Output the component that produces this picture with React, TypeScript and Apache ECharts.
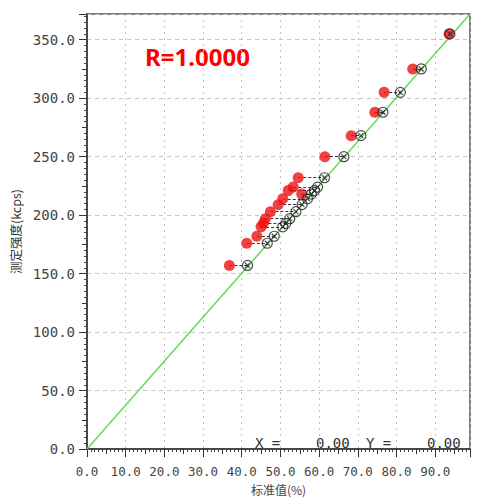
import React, { useEffect, useRef } from "react";
import * as echarts from "echarts";

// measured intensity (kcps) for each sample
const yMeasured = [355, 325, 305, 288, 268, 250, 232, 224, 221, 218, 214, 209, 203, 197, 193, 190, 182, 176, 157];
// red points (measured position)
const redX = [93.6, 84.2, 76.8, 74.4, 68.3, 61.5, 54.6, 53.3, 52.0, 55.5, 50.6, 49.4, 47.4, 46.1, 45.6, 45.0, 43.9, 41.3, 36.8];
// open circles (standard value, on calibration line)
const stdX = [93.8, 86.4, 81.0, 76.5, 70.8, 66.4, 61.4, 59.6, 58.8, 58.0, 57.0, 55.6, 54.0, 52.4, 51.4, 50.6, 48.4, 46.6, 41.5];
// calibration line end points
const lineX = [0, 99];
const lineY = [0, 372];

const X_MIN = 0, X_MAX = 99, X_INT = 10;
const Y_MIN = 0, Y_MAX = 372, Y_INT = 50;

const OPEN_SYMBOL =
  "path://M0,10 A10,10 0 1,0 20,10 A10,10 0 1,0 0,10 Z M5,5 L15,15 M15,5 L5,15";

export default function App() {
  const ref = useRef<HTMLDivElement>(null);
  useEffect(() => {
    if (!ref.current) return;
    const chart = echarts.init(ref.current, undefined, { renderer: "svg" });
    const labelColor = "#444";
    const monoFont = "DejaVu Sans Mono";
    const option: any = {
      animation: false,
      backgroundColor: "#ffffff",
      grid: {
        left: 87,
        right: 32,
        top: 14,
        bottom: 43,
        show: true,
        borderColor: "#555",
        borderWidth: 1.5,
        backgroundColor: "transparent",
      },
      xAxis: [
        {
          type: "value",
          min: X_MIN,
          max: X_MAX,
          interval: X_INT,
          position: "bottom",
          axisLine: { show: true, lineStyle: { color: "#333", width: 1.5 } },
          axisTick: { show: true, length: 8, inside: false, lineStyle: { color: "#333" } },
          minorTick: { show: true, splitNumber: 10, length: 3, lineStyle: { color: "#444" } },
          axisLabel: {
            show: true,
            margin: 16,
            fontSize: 12.5,
            color: labelColor,
            fontFamily: monoFont,
            showMaxLabel: false,
            formatter: (v: number) => v.toFixed(1),
          },
          splitLine: { show: true, lineStyle: { color: "#c4c4c4", type: [2, 4], width: 1 } },
          name: "标准值(%)",
          nameLocation: "middle",
          nameGap: 29,
          nameTextStyle: { fontSize: 12, color: "#444", fontFamily: "Noto Sans CJK SC" },
        },
        {
          type: "value",
          min: X_MIN,
          max: X_MAX,
          interval: 5,
          position: "bottom",
          axisLine: { show: false },
          axisTick: { show: true, length: 5, lineStyle: { color: "#333" } },
          axisLabel: { show: false },
          splitLine: { show: false },
        },
      ],
      yAxis: [
        {
          type: "value",
          min: Y_MIN,
          max: Y_MAX,
          interval: Y_INT,
          position: "left",
          axisLine: { show: true, lineStyle: { color: "#333", width: 1.5 } },
          axisTick: { show: true, length: 8, lineStyle: { color: "#333" } },
          minorTick: { show: true, splitNumber: 10, length: 3, lineStyle: { color: "#444" } },
          axisLabel: {
            show: true,
            margin: 12,
            fontSize: 14,
            color: labelColor,
            fontFamily: monoFont,
            showMaxLabel: false,
            formatter: (v: number) => v.toFixed(1),
          },
          splitLine: { show: true, lineStyle: { color: "#c4c4c4", type: [4, 4], width: 1 } },
          name: "测定强度(kcps)",
          nameLocation: "middle",
          nameGap: 64,
          nameTextStyle: { fontSize: 12.5, color: "#333", fontFamily: "Noto Sans CJK SC" },
        },
        {
          type: "value",
          min: Y_MIN,
          max: Y_MAX,
          interval: 25,
          position: "left",
          axisLine: { show: false },
          axisTick: { show: true, length: 5, lineStyle: { color: "#333" } },
          axisLabel: { show: false },
          splitLine: { show: false },
        },
      ],
      series: [
        {
          type: "line",
          data: lineX.map((x, i) => [x, lineY[i]]),
          showSymbol: false,
          symbol: "none",
          lineStyle: { color: "#66d85a", width: 1.5 },
          silent: true,
          z: 2,
        },
        {
          type: "lines",
          coordinateSystem: "cartesian2d",
          data: yMeasured.map((y, i) => ({ coords: [[redX[i], y], [stdX[i], y]] })),
          lineStyle: { color: "#333", width: 1, type: [3, 2], opacity: 1 },
          silent: true,
          z: 3,
        },
        {
          type: "scatter",
          data: yMeasured.map((y, i) => [redX[i], y]),
          symbol: "circle",
          symbolSize: 11,
          itemStyle: { color: "#ee1111" },
          z: 4,
        },
        {
          type: "scatter",
          data: yMeasured.map((y, i) => [stdX[i], y]),
          symbol: OPEN_SYMBOL,
          symbolSize: 10,
          itemStyle: { color: "rgba(255,255,255,0)", borderColor: "#222", borderWidth: 1.2 },
          z: 5,
        },
      ],
      graphic: [
        {
          type: "text",
          left: 145,
          top: 44,
          style: { text: "R=1.0000", fill: "#ff0000", font: 'bold 24px "Noto Sans"' },
        },
        {
          type: "text",
          x: 255,
          y: 443,
          style: { text: "X =", fill: "#333", font: '14px "DejaVu Sans Mono"', verticalAlign: "middle" },
        },
        {
          type: "text",
          x: 316,
          y: 443,
          style: { text: "0.00", fill: "#333", font: '14px "DejaVu Sans Mono"', verticalAlign: "middle" },
        },
        {
          type: "text",
          x: 366,
          y: 443,
          style: { text: "Y =", fill: "#333", font: '14px "DejaVu Sans Mono"', verticalAlign: "middle" },
        },
        {
          type: "text",
          x: 427,
          y: 443,
          style: { text: "0.00", fill: "#333", font: '14px "DejaVu Sans Mono"', verticalAlign: "middle" },
        },
      ],
    };
    chart.setOption(option);
    return () => chart.dispose();
  }, []);
  return (
    <div
      ref={ref}
      style={{ position: "absolute", left: 0, top: 0, width: 502, height: 500 }}
    />
  );
}
